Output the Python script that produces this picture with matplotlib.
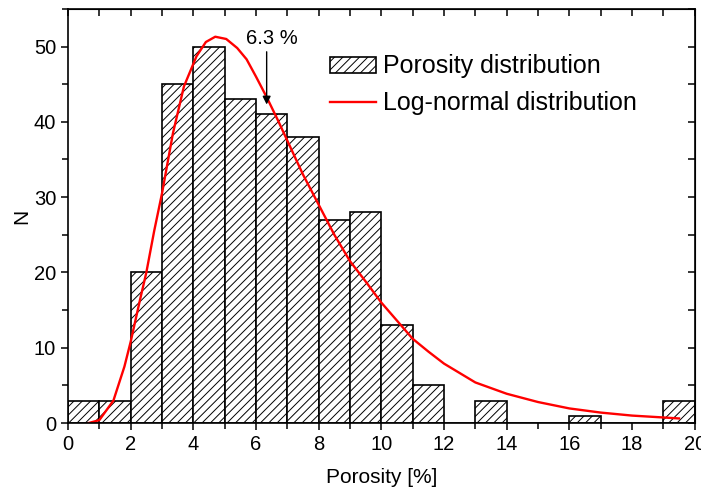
import numpy as np
import matplotlib
matplotlib.use("Agg")
import matplotlib.pyplot as plt
from matplotlib.ticker import MultipleLocator

# histogram of porosity, 1 % wide bins
bin_left = np.arange(0, 20)
counts = [3, 3, 20, 45, 50, 43, 41, 38, 27, 28, 13, 5, 0, 3, 0, 0, 1, 0, 0, 3]

# fitted log-normal curve
fit_x = [0.65, 1.0, 1.45, 1.8, 2.0, 2.3, 2.5, 2.75, 3.0, 3.35, 3.7, 4.1, 4.4, 4.7,
         5.05, 5.4, 5.7, 6.0, 6.35, 6.7, 7.0, 7.5, 8.0, 8.5, 9.0, 9.5, 10.0, 10.5,
         11.0, 11.5, 12.0, 13.0, 14.0, 15.0, 16.0, 17.0, 18.0, 19.0, 19.5]
fit_y = [0, 0.4, 3, 7.5, 10.8, 16.4, 20, 25.5, 30.5, 38.5, 44.7, 48.7, 50.6, 51.3,
         51, 49.8, 48.3, 46, 43.2, 40.2, 37.5, 33, 29, 25, 21.5, 18.8, 16, 13.6,
         11.2, 9.5, 7.9, 5.4, 3.9, 2.8, 1.95, 1.4, 1.0, 0.75, 0.62]

mean_label = "6.3 %"
mean_x = 6.34

plt.rcParams["font.family"] = ["Liberation Sans", "DejaVu Sans"]
plt.rcParams["hatch.linewidth"] = 0.7

fig = plt.figure(figsize=(7.01, 4.92), dpi=100)
ax = fig.add_axes([0.097, 0.140, 0.894, 0.842])

bars = ax.bar(bin_left, counts, width=1.0, align="edge", facecolor="white",
              edgecolor="black", linewidth=1.2, hatch="////")
line, = ax.plot(fit_x, fit_y, color="red", lw=1.7)

ax.annotate("", xy=(mean_x, 42.3), xytext=(mean_x, 49.3),
            arrowprops=dict(arrowstyle="-|>", color="black", lw=1, mutation_scale=12,
                            shrinkA=0, shrinkB=0))
ax.text(6.5, 51.1, mean_label, ha="center", va="center", fontsize=14.5)

ax.set_xlim(0, 20)
ax.set_ylim(0, 55)
ax.xaxis.set_major_locator(MultipleLocator(2))
ax.xaxis.set_minor_locator(MultipleLocator(1))
ax.yaxis.set_major_locator(MultipleLocator(10))
ax.yaxis.set_minor_locator(MultipleLocator(5))
ax.tick_params(which="both", direction="out", labelsize=14.5, width=1.1)
ax.tick_params(which="major", length=5)
ax.tick_params(which="minor", length=4)
for s in ax.spines.values():
    s.set_linewidth(1.2)

# mirrored ticks on top/right point inwards
top = ax.secondary_xaxis("top")
top.xaxis.set_major_locator(MultipleLocator(1))
top.tick_params(direction="in", length=5, width=1.1, labeltop=False)
right = ax.secondary_yaxis("right")
right.yaxis.set_major_locator(MultipleLocator(5))
right.tick_params(direction="in", length=5, width=1.1, labelright=False)

ax.set_xlabel("Porosity [%]", fontsize=15, labelpad=10)
ax.set_ylabel("N", fontsize=15, labelpad=2)

ax.legend([bars, line], ["Porosity distribution", "Log-normal distribution"],
          loc="upper left", bbox_to_anchor=(0.418, 0.89), frameon=False, fontsize=18,
          borderpad=0, borderaxespad=0, handlelength=1.84, handleheight=0.6,
          handletextpad=0.3, labelspacing=0.5)

fig.savefig("out.png", dpi=100)
